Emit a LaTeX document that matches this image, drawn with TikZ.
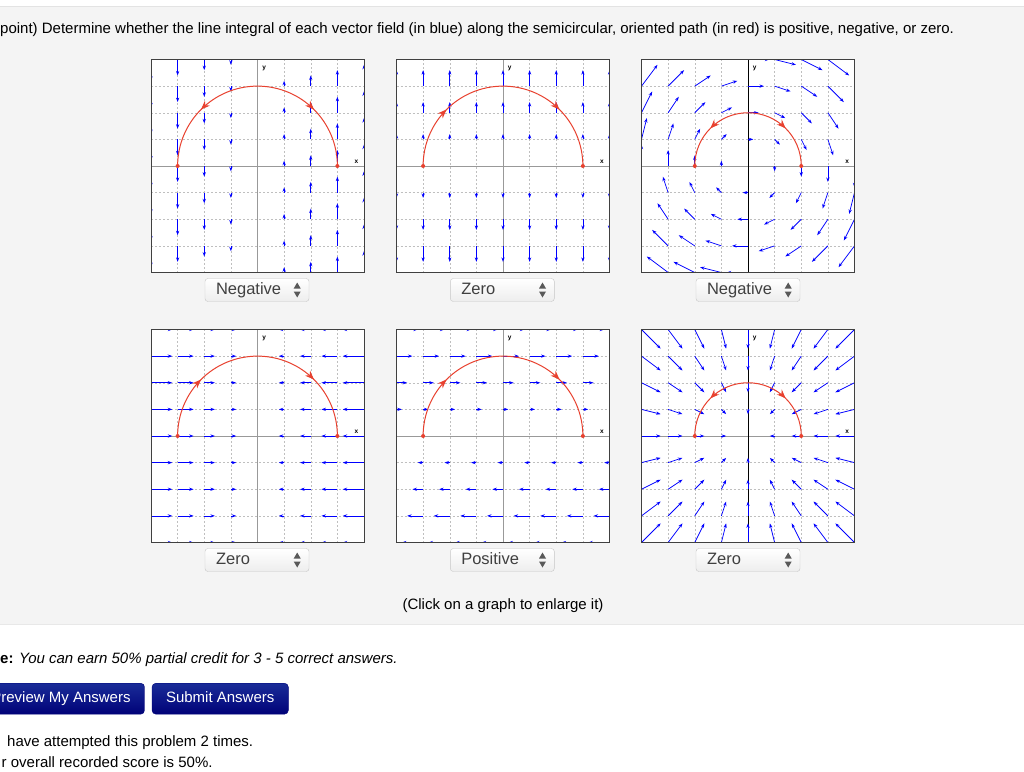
\documentclass[tikz,border=0pt]{standalone}
\usepackage{fontspec}
\setmainfont{Liberation Sans}
\usetikzlibrary{arrows.meta,decorations.markings,positioning}

\definecolor{pagegray}{HTML}{F4F4F4}
\definecolor{pathred}{HTML}{E8412F}
\definecolor{fieldblue}{HTML}{0000FF}
\definecolor{btntop}{HTML}{1A2C98}
\definecolor{btnbottom}{HTML}{000278}

\tikzset{
  gridline/.style={draw=gray!50, dash pattern=on 2pt off 2pt, line width=0.5pt},
  axisline/.style={draw=gray!80, line width=0.7pt},
  plotframe/.style={draw=black!75, line width=0.8pt},
  fieldarrow/.style={draw=fieldblue, line width=0.75pt, -{Stealth[length=4.5pt,width=3.2pt]}},
  redpath/.style={draw=pathred, color=pathred, line width=1pt},
  cwmarks/.style={postaction={decorate, decoration={markings,
      mark=at position 0.25 with {\arrow{Stealth[length=9pt,width=7pt]}},
      mark=at position 0.75 with {\arrow{Stealth[length=9pt,width=7pt]}}}}},
  splitmarks/.style={postaction={decorate, decoration={markings,
      mark=at position 0.25 with {\arrowreversed{Stealth[length=9pt,width=7pt]}},
      mark=at position 0.75 with {\arrow{Stealth[length=9pt,width=7pt]}}}}},
  axislabel/.style={font=\fontsize{6.5}{6.5}\selectfont\bfseries, inner sep=0pt},
  dropbox/.style={draw=gray!45, rounded corners=3pt, top color=white, bottom color=gray!14,
      minimum height=23pt, inner xsep=11pt, inner ysep=0pt, text width=82pt, align=left,
      text height=12pt, text depth=3.5pt,
      font=\fontsize{16.5}{16.5}\selectfont, text=black!75},
  spinner/.style={fill=black!65},
  button/.style={draw=btnbottom, rounded corners=4pt, top color=btntop, bottom color=btnbottom,
      text=white, font=\fontsize{15}{15}\selectfont, minimum height=31pt, inner xsep=14pt,
      text height=11pt, text depth=3pt},
  pagetext/.style={anchor=base west, inner sep=0pt, font=\fontsize{15}{18}\selectfont}
}

% one vector field plot: name, centre, fx, fy, radius, y-axis colour, marks
\newcommand{\fieldplot}[7]{%
  \begin{scope}[shift={#2}, x=26.625pt, y=26.625pt]
    \fill[white] (-4,-4) rectangle (4,4);
    \draw[gridline, step=1] (-4,-4) grid (4,4);
    \draw[axisline] (-4,0) -- (4,0);
    \draw[axisline, draw=#6] (0,-4) -- (0,4);
    \begin{scope}
      \clip (-4,-4) rectangle (4,4);
      \foreach \i in {-4,...,4}
        \foreach \j in {-4,...,4} {
          \pgfmathsetmacro\fx{#3}
          \pgfmathsetmacro\fy{#4}
          \pgfmathsetmacro\fl{veclen(\fx,\fy)}
          \ifdim\fl pt>0.02pt
            \draw[fieldarrow] (\i,\j) -- ++(\fx,\fy);
          \fi
        }
    \end{scope}
    \node[axislabel] (#1-y) at (0.25,3.65) {y};
    \node[axislabel] (#1-x) at (3.72,0.14) {x};
    \draw[redpath, #7] (-#5,0) arc[start angle=180, end angle=0, radius=#5];
    \fill[pathred] (-#5,0) circle[radius=2pt] (#5,0) circle[radius=2pt];
    \draw[plotframe] (-4,-4) rectangle (4,4);
  \end{scope}}

% answer drop-down: name, centre, answer
\newcommand{\answerbox}[3]{%
  \node[dropbox] (#1) at #2 {#3};
  \fill[spinner] ([xshift=-15.5pt,yshift=1.5pt]#1.east) -- ++(7,0) -- ++(-3.5,-6) -- cycle;
  \fill[spinner] ([xshift=-15.5pt,yshift=-1.5pt]#1.east) -- ++(7,0) -- ++(-3.5,6) -- cycle;}

\begin{document}
\begin{tikzpicture}[x=1pt, y=-1pt]
  \useasboundingbox (0,0) rectangle (1024,771);
  \fill[white] (0,0) rectangle (1024,771);
  \fill[pagegray] (0,6) rectangle (1024,624);
  \draw[gray!22] (0,6) -- (1024,6);
  \draw[gray!18] (0,624) -- (1024,624);

  \node[pagetext] (prompt) at (0,33)
    {point) Determine whether the line integral of each vector field (in blue) along the semicircular, oriented path (in red) is positive, negative, or zero.};

  % the six plots
  \fieldplot{pa}{(257.5,166)}{0}{0.2*\i}{3}{gray!80}{splitmarks}
  \fieldplot{pb}{(503,166)}{0}{0.2*\j}{3}{gray!80}{cwmarks}
  \fieldplot{pc}{(748,166)}{0.2*\j}{-0.2*\i}{2}{black}{splitmarks}
  \fieldplot{pd}{(257.5,436)}{-0.2*\i}{0}{3}{gray!80}{cwmarks}
  \fieldplot{pe}{(503,436)}{0.2*\j}{0}{3}{gray!80}{cwmarks}
  \fieldplot{pf}{(748,436)}{-0.18*\i}{-0.18*\j}{2}{black}{splitmarks}

  % answers
  \answerbox{ansa}{(257,290)}{Negative}
  \answerbox{ansb}{(502.3,290)}{Zero}
  \answerbox{ansc}{(748,290)}{Negative}
  \answerbox{ansd}{(257,560)}{Zero}
  \answerbox{anse}{(502.3,560)}{Positive}
  \answerbox{ansf}{(748,560)}{Zero}

  \node[anchor=base, inner sep=0pt, font=\fontsize{15}{18}\selectfont] (enlarge) at (503,609)
    {(Click on a graph to enlarge it)};

  \node[pagetext] (note) at (0,663)
    {\textbf{e:} \textit{You can earn 50\% partial credit for 3 - 5 correct answers.}};

  \node[button] (preview) at (61,698.7) {Preview My Answers};
  \node[button, right=7pt of preview] (submit) {Submit Answers};

  \node[pagetext] (attempts) at (7,746) {have attempted this problem 2 times.};
  \node[pagetext] (score) at (1.5,767) {r overall recorded score is 50\%.};
\end{tikzpicture}
\end{document}
